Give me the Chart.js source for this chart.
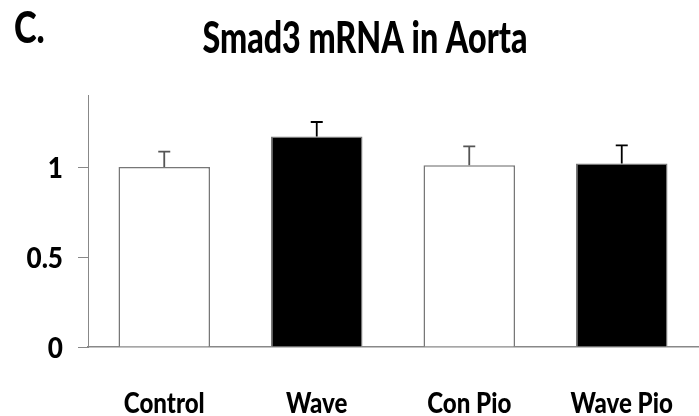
<!DOCTYPE html>
<html>
<head>
<meta charset="utf-8">
<script src="https://cdn.jsdelivr.net/npm/chart.js@4"></script>
<style>
  html, body { margin: 0; padding: 0; background: #fff; }
  #wrap { width: 699px; height: 416px; }
</style>
</head>
<body>
<div id="wrap"><canvas id="smadChart" width="699" height="416"></canvas></div>
<script>
// Datos del gráfico
const categorias = ['Control', 'Wave', 'Con Pio', 'Wave Pio'];
const valores = [1.0, 1.17, 1.01, 1.02];
const errores = [0.085, 0.08, 0.105, 0.10];
const colores = ['#ffffff', '#000000', '#ffffff', '#000000'];
const ticksY = [0, 0.5, 1];
const titulo = 'Smad3 mRNA in Aorta';
const panel = 'C.';

const FUENTE = "Lato, 'DejaVu Sans Condensed', sans-serif";

// texto estrecho y grueso tipo Calibri
function textoEstrecho(ctx, txt, x, y, size, align, sx) {
    ctx.save();
    ctx.font = '900 ' + size + 'px ' + FUENTE;
    ctx.fillStyle = '#000';
    ctx.textAlign = align;
    ctx.textBaseline = 'alphabetic';
    ctx.translate(x, y);
    ctx.scale(sx, 1);
    ctx.fillText(txt, 0, 0);
    ctx.restore();
}

// Barras de error (solo hacia arriba)
const barrasError = {
    id: 'barrasError',
    afterDatasetsDraw(chart) {
        const ctx = chart.ctx;
        const x = chart.scales.x;
        const y = chart.scales.y;
        ctx.save();
        ctx.lineWidth = 1.8;
        valores.forEach((v, i) => {
            const cx = x.getPixelForValue(i);
            const y0 = y.getPixelForValue(v);
            const y1 = y.getPixelForValue(v + errores[i]);
            ctx.strokeStyle = colores[i] === '#000000' ? '#000' : '#555';
            ctx.beginPath();
            ctx.moveTo(cx, y0);
            ctx.lineTo(cx, y1);
            ctx.moveTo(cx - 6, y1);
            ctx.lineTo(cx + 6, y1);
            ctx.stroke();
        });
        ctx.restore();
    }
};

// Textos: título, etiqueta del panel y etiquetas de los ejes
const textos = {
    id: 'textos',
    afterDraw(chart) {
        const ctx = chart.ctx;
        const x = chart.scales.x;
        const y = chart.scales.y;
        textoEstrecho(ctx, panel, 14, 43, 44, 'left', 0.78);
        textoEstrecho(ctx, titulo, 365, 53, 43, 'center', 0.75);
        categorias.forEach((c, i) => {
            textoEstrecho(ctx, c, x.getPixelForValue(i), 413, 28, 'center', 0.86);
        });
        ticksY.forEach(v => {
            textoEstrecho(ctx, String(v), 63, y.getPixelForValue(v) + 11, 29, 'right', 0.9);
        });
    }
};

document.addEventListener('DOMContentLoaded', function() {
    const ctx = document.getElementById('smadChart').getContext('2d');
    new Chart(ctx, {
        type: 'bar',
        data: {
            labels: categorias,
            datasets: [{
                data: valores,
                backgroundColor: colores,
                borderColor: '#777',
                borderWidth: 1.5,
                barPercentage: 0.6,
                categoryPercentage: 1.0
            }]
        },
        options: {
            responsive: false,
            animation: false,
            layout: { padding: { left: 0, right: 1, top: 95, bottom: 0 } },
            plugins: {
                legend: { display: false },
                tooltip: { enabled: false },
                title: { display: false }
            },
            scales: {
                x: {
                    grid: { display: false, drawTicks: false },
                    border: { color: '#888', width: 1.5 },
                    ticks: { display: false },
                    afterFit(scale) {
                        scale.height = 69;
                        scale.paddingLeft = 0;
                        scale.paddingRight = 0;
                    }
                },
                y: {
                    min: 0,
                    max: 1.4,
                    afterBuildTicks(scale) {
                        scale.ticks = ticksY.map(v => ({ value: v }));
                    },
                    afterFit(scale) {
                        scale.width = 88;
                        scale.paddingTop = 0;
                        scale.paddingBottom = 0;
                    },
                    grid: {
                        drawOnChartArea: false,
                        tickLength: 10,
                        color: '#888'
                    },
                    border: { color: '#888', width: 1 },
                    ticks: { display: false }
                }
            }
        },
        plugins: [barrasError, textos]
    });
});
</script>
</body>
</html>
